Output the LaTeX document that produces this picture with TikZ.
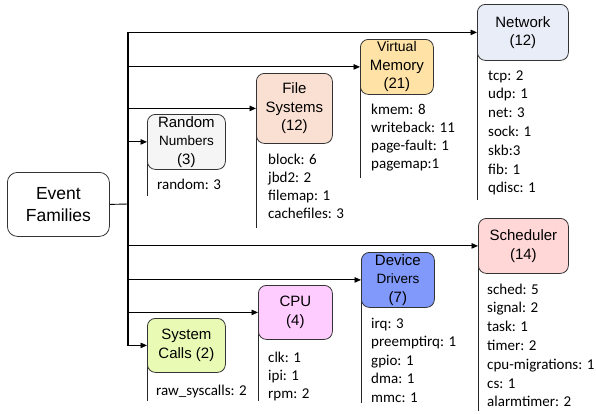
\documentclass[tikz,border=0pt]{standalone}
\usepackage{fontspec}
\setmainfont{Liberation Sans}
\newfontfamily\carlito{Carlito}
\usetikzlibrary{arrows.meta,backgrounds}
\definecolor{netc}{HTML}{E8EDF8}
\definecolor{vmc}{HTML}{FFE2A6}
\definecolor{fsc}{HTML}{FAE0D2}
\definecolor{rnc}{HTML}{F5F5F5}
\definecolor{schc}{HTML}{FFD7D7}
\definecolor{ddc}{HTML}{8099FA}
\definecolor{cpuc}{HTML}{FFCCFF}
\definecolor{sysc}{HTML}{E8FAB4}
\begin{document}
\begin{tikzpicture}[x=1pt,y=-1pt,
  box/.style={draw=black!80, line width=0.8pt, rounded corners=8pt, align=center,
    inner sep=0pt, anchor=north west, font=\fontsize{15}{18.5}\selectfont},
  item/.style={anchor=base west, inner sep=0pt, font=\carlito\fontsize{15}{18}\selectfont},
  branch/.style={line width=0.9pt, -{Triangle[length=6.5pt,width=5.5pt]}},
  tail/.style={line width=0.8pt, black!85},
  trunkline/.style={line width=1.3pt, line cap=rect}]
\useasboundingbox (0,0) rectangle (596,413);

% boxes
\node[box, rounded corners=10pt, fill=white, minimum width=102pt, minimum height=64pt,
  font=\fontsize{17.5}{22}\selectfont] (ef) at (7,172) {Event\\Families};
\node[box, fill=netc, minimum width=91pt, minimum height=56pt] (net) at (477,4) {Network\\(12)};
\node[box, fill=vmc, minimum width=73pt, minimum height=55pt] (vm) at (360,39)
  {{\fontsize{14}{18.5}\selectfont Virtual}\\Memory\\(21)};
\node[box, fill=fsc, minimum width=76pt, minimum height=70pt] (fs) at (256,73) {File\\Systems\\(12)};
\node[box, fill=rnc, minimum width=78pt, minimum height=55pt] (rn) at (147,114)
  {Random\\{\fontsize{13.5}{18.5}\selectfont Numbers}\\(3)};
\node[box, fill=schc, minimum width=90pt, minimum height=55pt] (sch) at (478,218) {Scheduler\\(14)};
\node[box, fill=ddc, minimum width=73pt, minimum height=55pt] (dd) at (361,252)
  {Device\\{\fontsize{13.5}{18.5}\selectfont Drivers}\\(7)};
\node[box, fill=cpuc, minimum width=74pt, minimum height=54pt] (cpu) at (258,285) {CPU\\(4)};
\node[box, fill=sysc, minimum width=78pt, minimum height=54pt] (sys) at (147,318) {System\\Calls (2)};

% trunk and branches
\coordinate (tr) at (128,204);
\draw[trunkline] (tr |- net.west) -- (tr |- sys.west);
\draw[line width=0.9pt] (ef.east) -- (tr);
\foreach \n in {net,vm,fs,rn,sch,dd,cpu,sys}
  \draw[branch] (tr |- \n.west) -- (\n.west);

% tails
\coordinate (netend) at (net.west |- 0,200);
\coordinate (vmend) at (vm.west |- 0,178);
\coordinate (fsend) at (fs.west |- 0,228);
\coordinate (rnend) at (rn.west |- 0,196);
\coordinate (schend) at (sch.west |- 0,411);
\coordinate (ddend) at (dd.west |- 0,403);
\coordinate (cpuend) at (cpu.west |- 0,401);
\coordinate (sysend) at (sys.west |- 0,401);
\begin{scope}[on background layer]
\path[fill=white] (0,0) rectangle (596,413);
\foreach \n in {net,vm,fs,rn,sch,dd,cpu,sys}
  \draw[tail] (\n.west) -- (\n end);
\end{scope}

% lists
\node[item] (rnl) at (157,189) {random: 3};
\foreach \t [count=\i from 0] in {block: 6,jbd2: 2,filemap: 1,cachefiles: 3}
  \node[item] (fsl\i) at (268,{164+\i*18.3}) {\t};
\foreach \t [count=\i from 0] in {kmem: 8,writeback: 11,page-fault: 1,pagemap:1}
  \node[item] (vml\i) at (371,{114+\i*18.3}) {\t};
\foreach \t [count=\i from 0] in {tcp: 2,udp: 1,net: 3,sock: 1,skb:3,fib: 1,qdisc: 1}
  \node[item] (netl\i) at (488,{80+\i*18.8}) {\t};
\foreach \t [count=\i from 0] in {sched: 5,signal: 2,task: 1,timer: 2,cpu-migrations: 1,cs: 1,alarmtimer: 2}
  \node[item] (schl\i) at (487,{294+\i*18.8}) {\t};
\foreach \t [count=\i from 0] in {irq: 3,preemptirq: 1,gpio: 1,dma: 1,mmc: 1}
  \node[item] (ddl\i) at (371,{328+\i*18.5}) {\t};
\foreach \t [count=\i from 0] in {clk: 1,ipi: 1,rpm: 2}
  \node[item] (cpul\i) at (268,{362+\i*18.3}) {\t};
\node[item] (sysl) at (156,395) {raw\_syscalls: 2};
\end{tikzpicture}
\end{document}
